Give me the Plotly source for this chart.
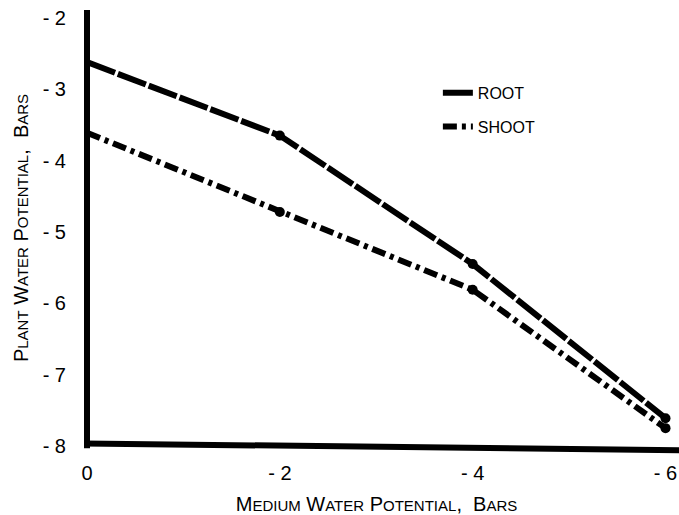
import plotly.graph_objects as go

x_vals = [0, -2, -4, -6]
root = [-2.62, -3.65, -5.45, -7.61]
shoot = [-3.61, -4.72, -5.81, -7.75]

x_ticks = [0, -2, -4, -6]
x_ticklabels = ["0", "- 2", "- 4", "- 6"]
y_ticks = [-2, -3, -4, -5, -6, -7, -8]
y_ticklabels = ["- 2", "- 3", "- 4", "- 5", "- 6", "- 7", "- 8"]

FONT = "Liberation Sans Narrow, Liberation Sans, DejaVu Sans, sans-serif"

fig = go.Figure()
fig.add_trace(go.Scatter(
    x=x_vals, y=root, mode="lines", name="ROOT", legendgroup="root",
    line=dict(color="black", width=6, dash="30px,3px"), cliponaxis=False,
))
fig.add_trace(go.Scatter(
    x=x_vals[1:], y=root[1:], mode="markers", showlegend=False, legendgroup="root",
    marker=dict(color="black", size=10), cliponaxis=False,
))
fig.add_trace(go.Scatter(
    x=x_vals, y=shoot, mode="lines", name="SHOOT", legendgroup="shoot",
    line=dict(color="black", width=6, dash="14px,5px,4px,5px"), cliponaxis=False,
))
fig.add_trace(go.Scatter(
    x=x_vals[1:], y=shoot[1:], mode="markers", showlegend=False, legendgroup="shoot",
    marker=dict(color="black", size=10), cliponaxis=False,
))

S = "<span style='font-size:15px'>%s</span>"
ytitle = "P" + S % "LANT" + " W" + S % "ATER" + " P" + S % "OTENTIAL" + ",  B" + S % "ARS"
xtitle = "M" + S % "EDIUM" + " W" + S % "ATER" + " P" + S % "OTENTIAL" + ",  B" + S % "ARS"

fig.update_layout(
    width=679, height=515,
    margin=dict(l=87, r=13, t=10, b=69, autoexpand=False),
    paper_bgcolor="white", plot_bgcolor="white",
    font=dict(family=FONT, color="black", size=18),
    showlegend=True,
    legend=dict(x=0.606, y=0.849, xanchor="left", yanchor="top",
                bgcolor="rgba(0,0,0,0)", font=dict(size=16),
                itemwidth=30, tracegroupgap=10),
    xaxis=dict(range=[0, -6.005], tickvals=x_ticks, ticktext=x_ticklabels,
               showgrid=False, zeroline=False, showline=False, ticks="",
               ticklabelstandoff=13, tickfont=dict(size=20), automargin=False,
               title=dict(text=xtitle, font=dict(size=20), standoff=18)),
    yaxis=dict(range=[-8, -1.89], tickvals=y_ticks, ticktext=y_ticklabels,
               showgrid=False, zeroline=False, showline=False, ticks="",
               ticklabelstandoff=20, tickfont=dict(size=20), automargin=False,
               title=dict(text=ytitle, font=dict(size=20), standoff=8)),
)

# thick axis lines
fig.add_shape(type="line", xref="paper", yref="paper", x0=0, x1=0, y0=-0.005, y1=1,
              line=dict(color="black", width=6))
fig.add_shape(type="line", xref="paper", yref="paper", x0=-0.005, x1=1.025, y0=0.006, y1=-0.01,
              line=dict(color="black", width=6))

fig.write_html("out.html", config={"displayModeBar": False},
               post_script="document.body.style.margin='0';")
